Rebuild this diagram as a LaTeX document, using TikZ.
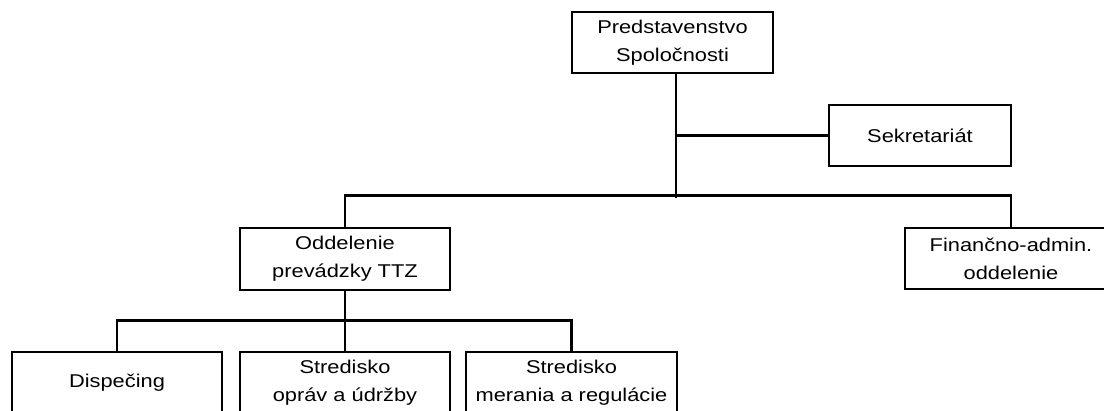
\documentclass[tikz,border=0pt]{standalone}
\usepackage{fontspec}
\setmainfont{Liberation Sans}[FakeStretch=1.18]
\begin{document}
\begin{tikzpicture}[x=1pt,y=-1pt,
  orgbox/.style={draw=black, line width=2.8pt, fill=white, inner sep=0pt,
    minimum height=61pt, align=center,
    font=\fontsize{18.5}{28}\selectfont},
  link/.style={draw=black, line width=2.4pt}]
\useasboundingbox (0,0) rectangle (1104,410);
\clip (0,0) rectangle (1104,410);
\fill[white] (0,0) rectangle (1104,410);
% nodes
\node[orgbox, minimum width=201pt] (pred) at (672.5,42.5) {Predstavenstvo\\Spoločnosti};
\node[orgbox, minimum width=182pt] (sek) at (920,135.5) {Sekretariát};
\node[orgbox, minimum width=210pt, minimum height=62pt] (odd) at (345,259) {Oddelenie\\prevádzky TTZ};
\node[orgbox, minimum width=212pt] (fin) at (1011,258.5) {Finančno-admin.\\oddelenie};
\node[orgbox, minimum width=210pt] (disp) at (117,382.5) {Dispečing};
\node[orgbox, minimum width=210pt] (sto) at (345,382.5) {Stredisko\\opráv a údržby};
\node[orgbox, minimum width=211pt] (stm) at (571.5,382.5) {Stredisko\\merania a regulácie};
% junctions
\coordinate (bar) at (676,197.5);
% connectors
\draw[link] ([xshift=3.5pt]pred.south) -- (bar);
\draw[link] (sek.west) -- (sek.west -| bar);
\draw[link] (odd.north) -- ++(0,-31) -| (fin.north);
\draw[link] (odd.south) -- (sto.north);
\draw[link] (disp.north) -- ++(0,-30) -| (stm.north);
\end{tikzpicture}
\end{document}
